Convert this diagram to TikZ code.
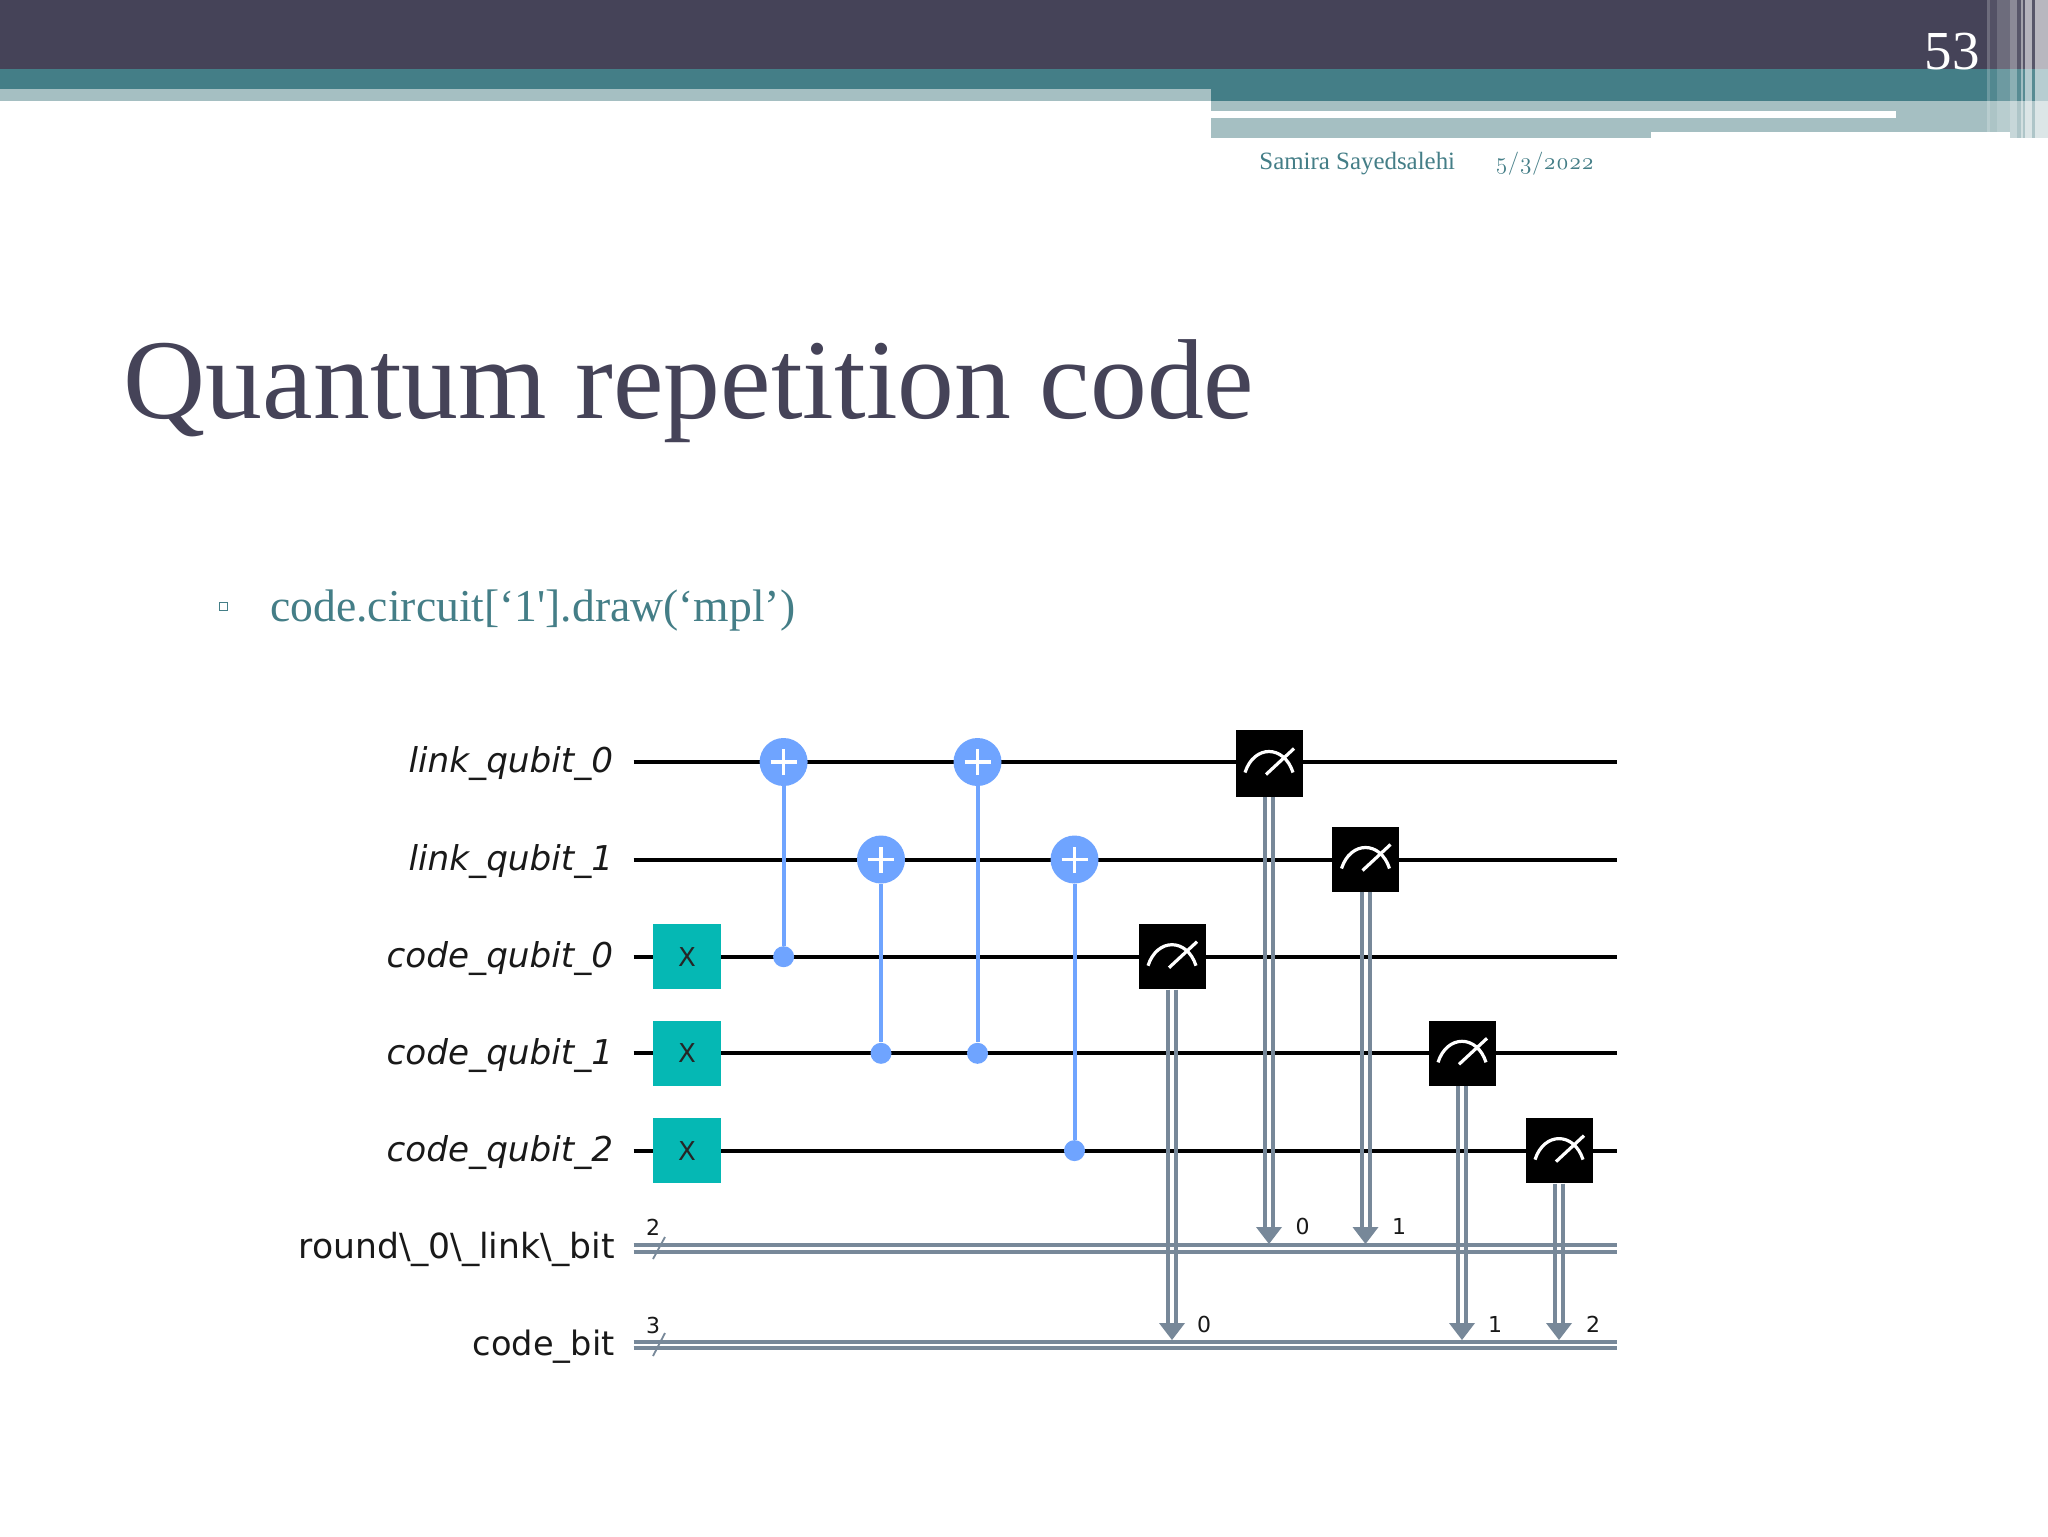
\documentclass[tikz,border=0pt]{standalone}
\usepackage{fontspec}
\setmainfont{Liberation Serif}
\newfontfamily\dv{DejaVu Sans}
\newfontfamily\bodyf{Liberation Serif}
\newfontfamily\oldnum[Numbers=OldStyle]{Latin Modern Roman}
\definecolor{hdark}{HTML}{454358}
\definecolor{hteal}{HTML}{447E87}
\definecolor{hlight}{HTML}{A5BFC2}
\definecolor{qblue}{HTML}{6FA4FF}
\definecolor{qteal}{HTML}{05B8B4}
\definecolor{qgray}{HTML}{778899}
\tikzset{
  x=0.5pt,y=-0.5pt,
  wirelabel/.style={anchor=base east,inner sep=0,text=black!90,font=\dv\fontsize{17.3}{20}\selectfont},
  wirelabelit/.style={wirelabel,font=\dv\itshape\fontsize{17.1}{20}\selectfont},
  smalllabel/.style={anchor=base,inner sep=0,text=black!90,font=\dv\fontsize{11}{12}\selectfont},
  qwire/.style={black,line width=2pt},
  cwire/.style={qgray,line width=2pt},
  cxline/.style={qblue,line width=2pt},
  xgate/.style={rectangle,fill=qteal,minimum width=34pt,minimum height=32.5pt,inner sep=0,text=black!85,font=\dv\fontsize{13}{14}\selectfont},
  meas/.style={rectangle,fill=black,minimum width=33.5pt,minimum height=32.5pt,inner sep=0},
  target/.style={circle,fill=qblue,minimum size=24pt,inner sep=0},
  control/.style={circle,fill=qblue,minimum size=10.5pt,inner sep=0},
  plusline/.style={white,line width=1.8pt},
  gauge/.style={white,line width=1.6pt},
  stripe/.style={white,fill opacity=#1},
}
\newcommand{\dblv}[2]{% from node #1 to coordinate #2
  \draw[cwire] ([xshift=-2pt]#1.south) -- ([xshift=-2pt,yshift=5pt]#2);
  \draw[cwire] ([xshift=2pt]#1.south) -- ([xshift=2pt,yshift=5pt]#2);
  \fill[qgray] (#2) -- ++(-13,-17) -- ++(26,0) -- cycle;
}
\newcommand{\dblh}[2]{%
  \draw[cwire] ([yshift=1.6pt]#1) -- ([yshift=1.6pt]#2);
  \draw[cwire] ([yshift=-1.6pt]#1) -- ([yshift=-1.6pt]#2);
}
\newcommand{\gaugeon}[1]{%
  \draw[gauge] ([shift={(-24,9)}]#1.center) .. controls ([shift={(-15,-19)}]#1.center) and ([shift={(15,-19)}]#1.center) .. ([shift={(24,9)}]#1.center);
  \draw[gauge] ([shift={(-3,11)}]#1.center) -- ([shift={(25,-15)}]#1.center);
}
\newcommand{\pluson}[1]{%
  \draw[plusline] ([xshift=-6.5pt]#1.center) -- ([xshift=6.5pt]#1.center);
  \draw[plusline] ([yshift=-6.5pt]#1.center) -- ([yshift=6.5pt]#1.center);
}
\begin{document}
\begin{tikzpicture}
\useasboundingbox (0,0) rectangle (2048,1536);
\fill[white] (0,0) rectangle (2048,1536);
% header bands
\fill[hdark] (0,0) rectangle (2048,69);
\fill[hteal] (0,69) rectangle (2048,101);
\fill[hlight] (0,89) rectangle (1211,101);
\fill[hlight] (1211,101) rectangle (2048,138);
\fill[white] (1211,111.5) rectangle (1896,117.5);
\fill[white] (1651,132) rectangle (2010,138);
% vertical stripes
\fill[stripe=.22] (1987,0) rectangle (1990,132);
\fill[stripe=.08] (1990,0) rectangle (1997,132);
\fill[stripe=.22] (1997,0) rectangle (2010,132);
\fill[stripe=.38] (2010,0) rectangle (2017,138);
\fill[stripe=.1] (2017,0) rectangle (2021,138);
\fill[stripe=.5] (2021,0) rectangle (2023,138);
\fill[stripe=.1] (2023,0) rectangle (2025,138);
\fill[stripe=.6] (2025,0) rectangle (2032,138);
\fill[stripe=.1] (2032,0) rectangle (2035,138);
\fill[stripe=.62] (2035,0) rectangle (2048,138);
% header / title texts
\node[anchor=base east,inner sep=0,text=white,font=\fontsize{27.5}{30}\selectfont] (pagenum) at (1980,69) {53};
\node[anchor=base west,inner sep=0,text=hteal,font=\fontsize{12.45}{14}\selectfont] (author) at (1259,169.5) {Samira Sayedsalehi};
\node[anchor=base west,inner sep=0,text=hteal,font=\oldnum\fontsize{11.6}{14}\selectfont] (date) at (1495,169.5) {5/3/2022};
\node[anchor=base west,inner sep=0,text=hdark,font=\fontsize{56.85}{60}\selectfont] (title) at (123.5,418) {Quantum repetition code};
\node[draw=hteal,line width=.7pt,minimum size=4pt,inner sep=0] (bullet) at (223.5,606.5) {};
\node[anchor=base west,inner sep=0,text=hteal,font=\bodyf\fontsize{22.8}{26}\selectfont] (body) at (270,621.5) {code.circuit[‘1'].draw(‘mpl’)};
% wire ends
\foreach \n/\y in {0/762,1/859.5,2/956.7,3/1053.3,4/1150.6,5/1248.3,6/1345}{
  \coordinate (ws\n) at (633.5,\y);
  \coordinate (we\n) at (1617,\y);
}
% labels
\node[wirelabelit] (l0) at (613.5,772.5) {link\_qubit\_0};
\node[wirelabelit] (l1) at (613.5,870) {link\_qubit\_1};
\node[wirelabelit] (l2) at (613.5,967) {code\_qubit\_0};
\node[wirelabelit] (l3) at (613.5,1064) {code\_qubit\_1};
\node[wirelabelit] (l4) at (613.5,1161) {code\_qubit\_2};
\node[wirelabel] (l5) at (615,1258) {round\textbackslash\_0\textbackslash\_link\textbackslash\_bit};
\node[wirelabel,font=\dv\fontsize{16.8}{20}\selectfont] (l6) at (615,1355) {code\_bit};
% wires
\foreach \n in {0,...,4}{\draw[qwire] (ws\n) -- (we\n);}
\dblh{ws5}{we5}
\dblh{ws6}{we6}
% register slashes
\coordinate (s5a) at (653,1259); \coordinate (s5b) at (665,1237);
\coordinate (s6a) at (653,1356); \coordinate (s6b) at (665,1333);
\draw[qgray,line width=.9pt] (s5a) -- (s5b);
\draw[qgray,line width=.9pt] (s6a) -- (s6b);
\node[smalllabel] (n5) at (653,1235) {2};
\node[smalllabel] (n6) at (653,1333) {3};
% X gates
\node[xgate] (x0) at (687,956.7) {X};
\node[xgate] (x1) at (687,1053.3) {X};
\node[xgate] (x2) at (687,1150.6) {X};
% CX gates
\node[control] (c0) at (783.6,956.7) {};
\node[control] (c1) at (881,1053.3) {};
\node[control] (c2) at (977.5,1053.3) {};
\node[control] (c3) at (1074.5,1150.6) {};
\node[target] (t0) at (783.6,762) {};
\node[target] (t1) at (881,859.5) {};
\node[target] (t2) at (977.5,762) {};
\node[target] (t3) at (1074.5,859.5) {};
\draw[cxline] (t0) -- (c0);
\draw[cxline] (t1) -- (c1);
\draw[cxline] (t2) -- (c2);
\draw[cxline] (t3) -- (c3);
\pluson{t0}\pluson{t1}\pluson{t2}\pluson{t3}
% measurements
\node[meas] (m0) at (1172,956.7) {};
\node[meas,minimum height=33.5pt] (m1) at (1269,763.5) {};
\node[meas] (m2) at (1365.5,859.5) {};
\node[meas] (m3) at (1462,1053.3) {};
\node[meas] (m4) at (1559,1150.6) {};
\gaugeon{m0}\gaugeon{m1}\gaugeon{m2}\gaugeon{m3}\gaugeon{m4}
\coordinate (a0) at (1172,1340);
\coordinate (a1) at (1269,1244);
\coordinate (a2) at (1365.5,1244);
\coordinate (a3) at (1462,1340);
\coordinate (a4) at (1559,1340);
\dblv{m0}{a0}\dblv{m1}{a1}\dblv{m2}{a2}\dblv{m3}{a3}\dblv{m4}{a4}
\node[smalllabel] (b0) at (1204,1332) {0};
\node[smalllabel] (b1) at (1302.5,1234) {0};
\node[smalllabel] (b2) at (1399,1234) {1};
\node[smalllabel] (b3) at (1495,1332) {1};
\node[smalllabel] (b4) at (1593,1332) {2};
\end{tikzpicture}
\end{document}
